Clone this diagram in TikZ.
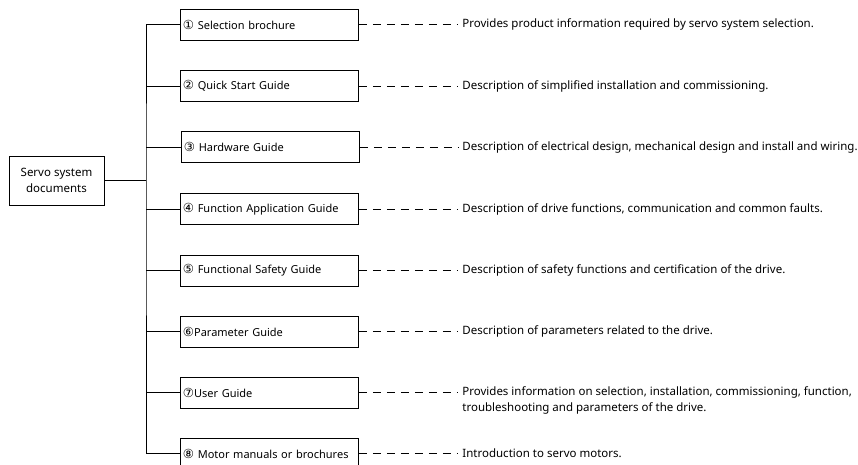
\documentclass[tikz,border=0pt]{standalone}
\usepackage{fontspec}
\setmainfont{Noto Sans}
\newfontfamily\circfont{DejaVu Sans}
\newcommand\cnum[1]{{\circfont\fontsize{12.5}{14}\selectfont #1}}
\begin{document}
\begin{tikzpicture}[x=1pt,y=-1pt,line width=0.8pt,
  font=\fontsize{11.5}{16}\selectfont,
  doc/.style={rectangle,draw,anchor=west,minimum height=31pt,text width=173pt,inner sep=2.5pt,align=left,font=\fontsize{11}{14}\selectfont},
  desc/.style={anchor=west,align=left,inner sep=0pt},
  link/.style={dash pattern=on 8pt off 6pt,shorten >=4pt}]
\useasboundingbox (0,0) rectangle (858,464);
\node (s) [rectangle,draw,minimum width=95pt,minimum height=49pt,align=center] at (56.5,180.5) {Servo system\\documents};
\coordinate (t) at (146,180.5);

\node (b1) [doc] at (180,24.5) {\cnum{①} Selection brochure};
\node (b2) [doc] at (180,86) {\cnum{②} Quick Start Guide};
\node (b3) [doc] at (181,147) {\cnum{③} Hardware Guide};
\node (b4) [doc] at (180,209) {\cnum{④} Function Application Guide};
\node (b5) [doc] at (180,270.5) {\cnum{⑤} Functional Safety Guide};
\node (b6) [doc] at (180,331.5) {\cnum{⑥}Parameter Guide};
\node (b7) [doc] at (180,392.5) {\cnum{⑦}User Guide};
\node (b8) [doc] at (180,453.5) {\cnum{⑧} Motor manuals or brochures};

\node (d1) [desc] at (462,24.5) {Provides product information required by servo system selection.};
\node (d2) [desc] at (462,86) {Description of simplified installation and commissioning.};
\node (d3) [desc] at (462,147) {Description of electrical design, mechanical design and install and wiring.};
\node (d4) [desc] at (462,209) {Description of drive functions, communication and common faults.};
\node (d5) [desc] at (462,270.5) {Description of safety functions and certification of the drive.};
\node (d6) [desc] at (462,331.5) {Description of parameters related to the drive.};
\node (d7) [desc] at (462,400.5) {Provides information on selection, installation, commissioning, function,\\troubleshooting and parameters of the drive.};
\node (d8) [desc] at (462,453.5) {Introduction to servo motors.};

\draw (s) -- (t);
\draw (b1.west) -| (t) |- (b8.west);
\draw (b2.west) -- (b2.west -| t);
\draw (b3.west) -- (b3.west -| t);
\draw (b4.west) -- (b4.west -| t);
\draw (b5.west) -- (b5.west -| t);
\draw (b6.west) -- (b6.west -| t);
\draw (b7.west) -- (b7.west -| t);

\draw [link] (b1.east) -- (d1.west);
\draw [link] (b2.east) -- (d2.west);
\draw [link] (b3.east) -- (d3.west);
\draw [link] (b4.east) -- (d4.west);
\draw [link] (b5.east) -- (d5.west);
\draw [link] (b6.east) -- (d6.west);
\draw [link] (b7.east) -- (b7.east -| d7.west);
\draw [link] (b8.east) -- (d8.west);
\end{tikzpicture}
\end{document}
